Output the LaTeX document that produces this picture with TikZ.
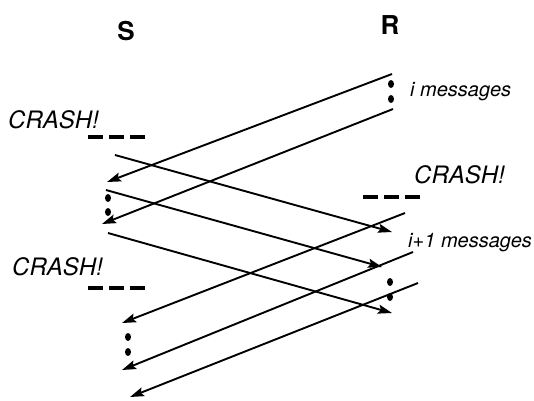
\documentclass[tikz,border=0pt]{standalone}
\usepackage{fontspec}
\setmainfont{TeX Gyre Heros}
\usetikzlibrary{arrows.meta}
\begin{document}
\begin{tikzpicture}[x=1pt,y=-1pt,
  msg/.style={line width=1.9pt,-{Stealth[length=14pt,width=9pt,inset=2.5pt]}},
  crashbar/.style={line width=4.5pt,dash pattern=on 15pt off 6pt},
  dotmark/.style={fill=black,draw=none},
  proc/.style={font=\fontsize{26}{26}\selectfont\bfseries,anchor=base,inner sep=0pt},
  crash/.style={font=\fontsize{24}{24}\selectfont\itshape,anchor=base west,inner sep=0pt},
  count/.style={font=\fontsize{20}{20}\selectfont\itshape,anchor=base west,inner sep=0pt}]
\useasboundingbox (0,0) rectangle (534,400);
% processes
\node[proc] (S) at (126,40) {S};
\node[proc] (R) at (390,34) {R};
% labels
\node[count] (im) at (410,96) {i messages};
\node[count] (ip) at (408,247) {i+1 messages};
\node[crash] (c1) at (8,128) {CRASH!};
\node[crash] (c2) at (414,183) {CRASH!};
\node[crash] (c3) at (12,275) {CRASH!};
% crash bars
\coordinate (b1s) at (88,137);  \coordinate (b1e) at (145,137);
\coordinate (b2s) at (363,197); \coordinate (b2e) at (420,197);
\coordinate (b3s) at (88,288);  \coordinate (b3e) at (145,288);
\draw[crashbar] (b1s) -- (b1e);
\draw[crashbar] (b2s) -- (b2e);
\draw[crashbar] (b3s) -- (b3e);
% endpoints
\coordinate (l1s) at (392,74);  \coordinate (l1e) at (107,182);
\coordinate (l2s) at (393,109); \coordinate (l2e) at (102,224);
\coordinate (r1s) at (115,155); \coordinate (r1e) at (392,232);
\coordinate (r2s) at (106,190); \coordinate (r2e) at (382,267);
\coordinate (r3s) at (108,233); \coordinate (r3e) at (392,313);
\coordinate (l3s) at (405,213); \coordinate (l3e) at (122,323);
\coordinate (l4s) at (413,252); \coordinate (l4e) at (122,370);
\coordinate (l5s) at (418,283); \coordinate (l5e) at (130,397);
% messages
\draw[msg] (l1s) -- (l1e);
\draw[msg] (l2s) -- (l2e);
\draw[msg] (r1s) -- (r1e);
\draw[msg] (r2s) -- (r2e);
\draw[msg] (r3s) -- (r3e);
\draw[msg] (l3s) -- (l3e);
\draw[msg] (l4s) -- (l4e);
\draw[msg] (l5s) -- (l5e);
% dots
\foreach \x/\y in {391/84,391/99,108/198,108/212,390/282,390/297,128/337,128/352}
  \fill[dotmark] (\x,\y) ellipse (3pt and 4pt);
\end{tikzpicture}
\end{document}
